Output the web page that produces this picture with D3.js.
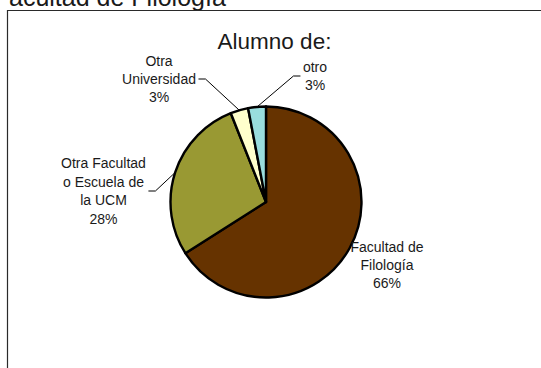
<!DOCTYPE html>
<html>
<head>
<meta charset="utf-8">
<script src="https://cdn.jsdelivr.net/npm/d3@7"></script>
<style>
  body { margin: 0; background: #fff; }
  svg { display: block; }
  text { font-family: Arial, "Liberation Sans", sans-serif; fill: #1a1a1a; }
</style>
</head>
<body>
<svg id="chart" width="541" height="368"></svg>
<script>
// Student origin shares (percent)
const categories = ["Facultad de Filología", "Otra Facultad o Escuela de la UCM", "Otra Universidad", "otro"];
const shares = [66, 28, 3, 3];
const labelLines = [
  ["Facultad de", "Filología"],
  ["Otra Facultad", "o Escuela de", "la UCM"],
  ["Otra", "Universidad"],
  ["otro"]
];
const sliceColors = ["#663300", "#999933", "#FFFFCC", "#99DDDD"];
const pageHeading = "Facultad de Filología";
const chartTitle = "Alumno de:";

// Layout
const W = 541, H = 368;
const cx = 266, cy = 202, R = 95.5;
const lineGap = 18.4, labelFont = 14;
// label block centres relative to the pie centre, and which side the leader leaves from
const labelLayout = [
  { dx: 121, dy: 63, leader: null },
  { dx: -162.5, dy: -11, leader: "right" },
  { dx: -107, dy: -123, leader: "right" },
  { dx: 49, dy: -126, leader: "left" }
];

const svg = d3.select("#chart");

// heading of the page, running off the top edge
const head = svg.append("text")
  .attr("y", 6)
  .style("font-size", "25px")
  .text(pageHeading);
const firstAdvance = head.node().getStartPositionOfChar(1).x - head.node().getStartPositionOfChar(0).x;
head.attr("x", 9 - firstAdvance);

// chart frame (left and top edges visible)
svg.append("path")
  .attr("d", `M7.5,${H} V10.5 H${W}`)
  .attr("fill", "none")
  .attr("stroke", "#2a2a2a")
  .attr("stroke-width", 1.2);

svg.append("text")
  .attr("x", 274.5)
  .attr("y", 48.5)
  .attr("text-anchor", "middle")
  .style("font-size", "22.5px")
  .text(chartTitle);

const pie = d3.pie().sort(null).value(d => d);
const arcs = pie(shares);
const arc = d3.arc().innerRadius(0).outerRadius(R);

const g = svg.append("g").attr("transform", `translate(${cx},${cy})`);

g.selectAll("path.slice")
  .data(arcs)
  .join("path")
  .attr("class", "slice")
  .attr("d", arc)
  .attr("fill", (d, i) => sliceColors[i])
  .attr("stroke", "#000")
  .attr("stroke-width", 2.4)
  .attr("stroke-linejoin", "round");

// labels with leader lines
arcs.forEach((a, i) => {
  const lay = labelLayout[i];
  const lines = labelLines[i].concat([d3.format(".0f")(shares[i]) + "%"]);
  const n = lines.length;
  const t = g.append("text")
    .attr("text-anchor", "middle")
    .style("font-size", labelFont + "px");
  lines.forEach((s, k) => {
    t.append("tspan")
      .attr("x", lay.dx)
      .attr("y", lay.dy + (k - (n - 1) / 2) * lineGap + 5)
      .text(s);
  });
  if (lay.leader) {
    const tspans = t.selectAll("tspan").nodes();
    const maxW = d3.max(tspans, nd => nd.getComputedTextLength());
    const mid = (a.startAngle + a.endAngle) / 2;
    const px = Math.sin(mid) * R, py = -Math.cos(mid) * R;
    const sgn = lay.leader === "right" ? 1 : -1;
    const x0 = lay.dx + sgn * (maxW / 2 + 2.5);
    const x1 = x0 + sgn * 7;
    g.append("path")
      .attr("d", `M${x0},${lay.dy} H${x1} L${px},${py}`)
      .attr("fill", "none")
      .attr("stroke", "#000")
      .attr("stroke-width", 1);
  }
});
</script>
</body>
</html>
